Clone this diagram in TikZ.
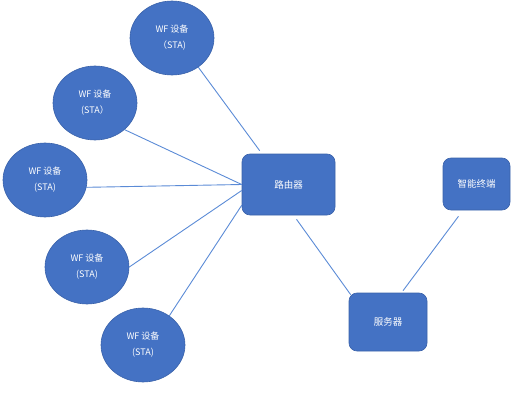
\documentclass[tikz,border=0pt]{standalone}
\usepackage{fontspec}
\setmainfont{Noto Sans CJK SC}
\usetikzlibrary{shapes.geometric}

\definecolor{ofblue}{HTML}{4472C4}
\definecolor{ofedge}{HTML}{3A62AA}
\definecolor{oflink}{HTML}{5B8BD6}

\tikzset{
  sta/.style={ellipse, draw=ofedge, fill=ofblue, line width=0.6pt, text=white,
    minimum width=84pt, minimum height=74pt, inner sep=0pt, align=center,
    font=\fontsize{9}{16}\selectfont},
  devbox/.style={rectangle, rounded corners=8pt, draw=ofedge, fill=ofblue, line width=0.6pt,
    text=white, inner sep=0pt, font=\fontsize{9.5}{12}\selectfont},
  link/.style={draw=oflink, line width=0.9pt}
}

\begin{document}
\begin{tikzpicture}[x=1pt, y=-1pt]
    \useasboundingbox (0,0) rectangle (528,404);
    % stations
    \node[sta] (sta1) at (172,38)  {WF 设备\\（STA)};
    \node[sta] (sta2) at (95,103)  {WF 设备\\(STA）};
    \node[sta] (sta3) at (45,180)  {WF 设备\\(STA)};
    \node[sta] (sta4) at (87,267)  {WF 设备\\(STA)};
    \node[sta] (sta5) at (143,345) {WF 设备\\(STA)};
    % router, server, terminal
    \node[devbox, minimum width=93pt, minimum height=61pt] (router) at (288.5,184.5) {路由器};
    \node[devbox, minimum width=67pt, minimum height=52pt] (term) at (476.5,184) {智能终端};
    \node[devbox, minimum width=78pt, minimum height=58pt] (server) at (388,322) {服务器};
    % links to the router
    \draw[link] (sta1.-48) -- ([xshift=18pt, yshift=3pt]router.north west);
    \draw[link] (sta2.-42) -- (router.west);
    \draw[link] (sta3.-10) -- (router.west);
    \draw[link] (sta4.east) -- ([yshift=-6pt]router.west);
    \draw[link] (sta5.48) -- ([yshift=10pt]router.south west);
    % router - server - terminal
    \draw[link] ([xshift=8pt, yshift=-4pt]router.south) -- ([xshift=2pt, yshift=-2pt]server.north west);
    \draw[link] ([xshift=15pt, yshift=2pt]server.north) -- ([xshift=-18pt, yshift=-6pt]term.south);
\end{tikzpicture}
\end{document}
